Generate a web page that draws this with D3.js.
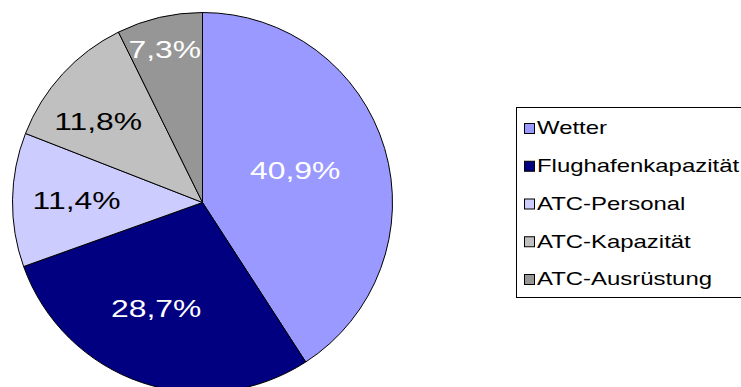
<!DOCTYPE html>
<html>
<head>
<meta charset="utf-8">
<script src="https://cdn.jsdelivr.net/npm/d3@7"></script>
<style>
  html, body { margin: 0; padding: 0; background: #ffffff; }
  svg { display: block; }
</style>
</head>
<body>
<svg id="chart" width="741" height="387"></svg>
<script>
// ---- data ----
const categories = ["Wetter", "Flughafenkapazität", "ATC-Personal", "ATC-Kapazität", "ATC-Ausrüstung"];
const values = [40.9, 28.7, 11.4, 11.8, 7.3];
const labels = ["40,9%", "28,7%", "11,4%", "11,8%", "7,3%"];
const colors = ["#9999FF", "#000080", "#CCCCFF", "#C0C0C0", "#969696"];
const labelColors = ["#ffffff", "#ffffff", "#000000", "#000000", "#ffffff"];

// ---- layout (not data) ----
const labelRadiusFrac = [0.515, 0.607, 0.663, 0.697, 0.83];
const labelAngleShiftDeg = [-2.4, 5, 0, -4.5, -0.7];
const cx = 202.5, cy = 202.5, R = 190;
const labelStretch = 1.3;
const legendStretch = 1.33;

const svg = d3.select("#chart");
const data = categories.map((c, i) => ({
  name: c, value: values[i], label: labels[i], color: colors[i], lc: labelColors[i],
  lr: labelRadiusFrac[i], la: labelAngleShiftDeg[i] * Math.PI / 180
}));

const pie = d3.pie().value(d => d.value).sort(null);
const arcs = pie(data);
const arc = d3.arc().innerRadius(0).outerRadius(R);

const g = svg.append("g").attr("transform", `translate(${cx},${cy})`);
g.selectAll("path.slice").data(arcs).join("path")
  .attr("class", "slice")
  .attr("d", arc)
  .attr("fill", d => d.data.color)
  .attr("stroke", "#000")
  .attr("stroke-width", 1);

g.selectAll("g.lbl").data(arcs).join("g")
  .attr("class", "lbl")
  .attr("transform", d => {
    const a = (d.startAngle + d.endAngle) / 2 + d.data.la;
    const r = R * d.data.lr;
    const x = Math.sin(a) * r, y = -Math.cos(a) * r;
    return `translate(${x},${y}) scale(${labelStretch},1)`;
  })
  .append("text")
  .attr("text-anchor", "middle")
  .attr("dy", "0.35em")
  .attr("font-family", "'Liberation Sans', Arial, sans-serif")
  .attr("font-size", 24.5)
  .attr("fill", d => d.data.lc)
  .text(d => d.data.label);

// ---- legend ----
const lg = svg.append("g");
lg.append("rect")
  .attr("x", 516.5).attr("y", 107.5)
  .attr("width", 240).attr("height", 190)
  .attr("fill", "#fff").attr("stroke", "#000").attr("stroke-width", 1);

const rowY = d3.scalePoint().domain(categories).range([128, 279]);
const items = lg.selectAll("g.item").data(data).join("g")
  .attr("class", "item")
  .attr("transform", d => `translate(0,${rowY(d.name)})`);
items.append("rect")
  .attr("x", 524.5).attr("y", -4.5)
  .attr("width", 10).attr("height", 10)
  .attr("fill", d => d.color).attr("stroke", "#000").attr("stroke-width", 1);
items.append("g")
  .attr("transform", `translate(537,0) scale(${legendStretch},1)`)
  .append("text")
  .attr("x", 0).attr("dy", "0.35em")
  .attr("font-family", "'Liberation Sans', Arial, sans-serif")
  .attr("font-size", 18)
  .attr("fill", "#000")
  .text(d => d.name);
</script>
</body>
</html>
